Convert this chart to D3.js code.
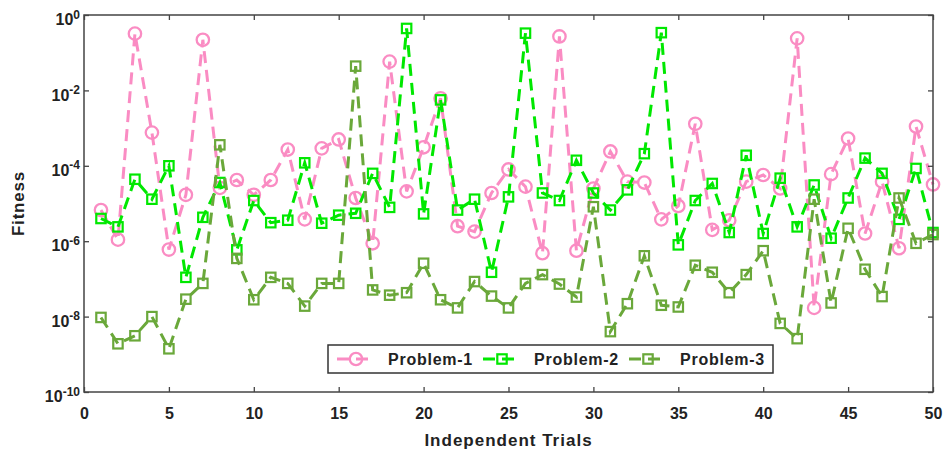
<!DOCTYPE html>
<html>
<head>
<meta charset="utf-8">
<script src="https://cdn.jsdelivr.net/npm/d3@7"></script>
<style>
  body { margin: 0; background: #fff; }
  svg { display: block; font-family: Arial, "Liberation Sans", sans-serif; }
</style>
</head>
<body>
<svg id="chart" width="943" height="453"></svg>
<script>
// Data
const trials = [1,2,3,4,5,6,7,8,9,10,11,12,13,14,15,16,17,18,19,20,21,22,23,24,25,
  26,27,28,29,30,31,32,33,34,35,36,37,38,39,40,41,42,43,44,45,46,47,48,49,50];

const problem1 = [6.7e-6, 1.1e-6, 0.32, 7.6e-4, 6e-7, 1.7e-5, 0.22, 2.6e-5, 4.2e-5, 1.7e-5,
  4.2e-5, 2.7e-4, 3.8e-6, 2.9e-4, 5e-4, 1.4e-5, 8.8e-7, 0.058, 2.1e-5, 3.1e-4,
  6.2e-3, 2.5e-6, 1.8e-6, 1.9e-5, 8e-5, 2.8e-5, 4.8e-7, 0.27, 5.6e-7, 2.5e-5,
  2.4e-4, 3.8e-5, 3.6e-5, 3.8e-6, 8.6e-6, 1.3e-3, 2e-6, 3.6e-6, 3.8e-5, 5.7e-5,
  2.5e-5, 0.24, 1.7e-8, 6e-5, 5.3e-4, 1.6e-6, 3.8e-5, 6.5e-7, 1.1e-3, 3.2e-5];

const problem2 = [4e-6, 2.4e-6, 4.4e-5, 1.3e-5, 1e-4, 1.1e-7, 4.3e-6, 3.6e-5, 5.9e-7, 1.2e-5,
  3.1e-6, 3.6e-6, 1.2e-4, 3e-6, 4.9e-6, 5.5e-6, 6.3e-5, 7.9e-6, 0.44, 5.3e-6,
  5.6e-3, 6.7e-6, 1.3e-5, 1.5e-7, 1.5e-5, 0.33, 1.9e-5, 1.2e-5, 1.4e-4, 1.9e-5,
  6.7e-6, 2.3e-5, 2.1e-4, 0.34, 8e-7, 1.2e-5, 3.4e-5, 1.7e-6, 1.9e-4, 1.6e-6,
  4.7e-5, 2.4e-6, 3.1e-5, 1.2e-6, 1.4e-5, 1.6e-4, 6.3e-5, 3.8e-6, 8.5e-5, 1.7e-6];

const problem3 = [9.5e-9, 1.9e-9, 3.1e-9, 1e-8, 1.4e-9, 2.9e-8, 7.6e-8, 3.6e-4, 3.5e-7, 2.8e-8,
  1.1e-7, 7.6e-8, 1.9e-8, 7.6e-8, 7.6e-8, 0.044, 5.1e-8, 3.7e-8, 4.3e-8, 2.6e-7,
  2.8e-8, 1.7e-8, 8.5e-8, 3.5e-8, 1.7e-8, 7.6e-8, 1.3e-7, 7.3e-8, 3.3e-8, 8.2e-6,
  4e-9, 2.2e-8, 4.1e-7, 2e-8, 1.8e-8, 2.3e-7, 1.5e-7, 4.3e-8, 1.3e-7, 5.6e-7,
  6.6e-9, 2.6e-9, 1.3e-5, 2.3e-8, 2.2e-6, 1.8e-7, 3.4e-8, 1.4e-5, 8.8e-7, 1.5e-6];

const seriesNames = ["Problem-1", "Problem-2", "Problem-3"];
const xTicks = [0, 5, 10, 15, 20, 25, 30, 35, 40, 45, 50];
const yExponents = [0, -2, -4, -6, -8, -10];

// styling
const COLORS = ["#fa8cc3", "#00e800", "#6aa83a"];
const MARKERS = ["circle", "square", "square"];

const svg = d3.select("#chart");
const plotLeft = 84, plotRight = 933, plotTop = 15, plotBottom = 392;

const x = d3.scaleLinear().domain([0, 50]).range([plotLeft, plotRight]);
const y = d3.scaleLog().domain([1e-10, 1]).range([plotBottom, plotTop]);

const series = [problem1, problem2, problem3].map(function (vals, k) {
  return {
    name: seriesNames[k],
    color: COLORS[k],
    marker: MARKERS[k],
    points: trials.map(function (t, i) { return { t: t, v: vals[i] }; })
  };
});

// lines + markers
const line = d3.line().x(d => x(d.t)).y(d => y(d.v));

function drawMarker(g, type, color, cx, cy) {
  if (type === "circle") {
    g.append("circle")
      .attr("cx", cx).attr("cy", cy).attr("r", 6.2)
      .attr("fill", "none").attr("stroke", color).attr("stroke-width", 2.3);
  } else {
    g.append("rect")
      .attr("x", cx - 4.7).attr("y", cy - 4.7)
      .attr("width", 9.4).attr("height", 9.4)
      .attr("fill", "none").attr("stroke", color).attr("stroke-width", 2.2);
  }
}

series.forEach(function (s) {
  const g = svg.append("g");
  g.append("path")
    .datum(s.points)
    .attr("d", line)
    .attr("fill", "none")
    .attr("stroke", s.color)
    .attr("stroke-width", 3)
    .attr("stroke-dasharray", "12,7");
  s.points.forEach(function (p) {
    drawMarker(g, s.marker, s.color, x(p.t), y(p.v));
  });
});

// axes (MATLAB style, ticks inside, box on)
const axisColor = "#444";
const yTickVals = yExponents.map(e => Math.pow(10, e));

const xAxis = svg.append("g")
  .attr("transform", "translate(0," + plotBottom + ")")
  .call(d3.axisBottom(x).tickValues(xTicks).tickSizeInner(-5).tickSizeOuter(0).tickPadding(16).tickFormat(d3.format("d")));

svg.append("g")
  .attr("transform", "translate(0," + plotTop + ")")
  .call(d3.axisTop(x).tickValues(xTicks).tickSizeInner(-5).tickSizeOuter(0).tickFormat(""));

const yAxis = svg.append("g")
  .attr("transform", "translate(" + plotLeft + ",0)")
  .call(d3.axisLeft(y).tickValues(yTickVals).tickSizeInner(-5).tickSizeOuter(0).tickPadding(4).tickFormat(""));

svg.append("g")
  .attr("transform", "translate(" + plotRight + ",0)")
  .call(d3.axisRight(y).tickValues(yTickVals).tickSizeInner(-5).tickSizeOuter(0).tickFormat(""));

svg.selectAll(".domain").remove();
svg.selectAll(".tick line").attr("stroke", axisColor).attr("stroke-width", 1.3);

xAxis.selectAll("text")
  .attr("fill", "#222")
  .style("font-size", "16px")
  .style("font-weight", "bold");

// y tick labels: 10 with superscript exponent
yAxis.selectAll(".tick").each(function (d) {
  const t = d3.select(this).select("text");
  const ex = Math.round(Math.log10(d));
  t.attr("x", -4).attr("dy", "0.6em")
    .attr("fill", "#222")
    .style("font-size", "16px")
    .style("font-weight", "bold")
    .attr("text-anchor", "end");
  t.append("tspan").text("10");
  t.append("tspan")
    .attr("dy", "-0.55em")
    .style("font-size", "12px")
    .text(String(ex === 0 ? 0 : ex));
});

// frame
svg.append("rect")
  .attr("x", plotLeft).attr("y", plotTop)
  .attr("width", plotRight - plotLeft).attr("height", plotBottom - plotTop)
  .attr("fill", "none")
  .attr("stroke", axisColor)
  .attr("stroke-width", 1.5);

// axis labels
svg.append("text")
  .attr("x", (plotLeft + plotRight) / 2)
  .attr("y", 446)
  .attr("text-anchor", "middle")
  .attr("fill", "#222")
  .style("font-size", "17px")
  .style("font-weight", "bold")
  .style("letter-spacing", "1px")
  .text("Independent Trials");

svg.append("text")
  .attr("transform", "translate(24," + ((plotTop + plotBottom) / 2) + ") rotate(-90)")
  .attr("text-anchor", "middle")
  .attr("fill", "#222")
  .style("font-size", "17px")
  .style("font-weight", "bold")
  .style("letter-spacing", "0.8px")
  .text("Fitness");

// legend
const legend = svg.append("g");
legend.append("rect")
  .attr("x", 328).attr("y", 345)
  .attr("width", 445).attr("height", 28)
  .attr("fill", "#fff")
  .attr("stroke", "#333")
  .attr("stroke-width", 1.5);

const legendX = [337, 483, 629];
series.forEach(function (s, k) {
  const lx = legendX[k], ly = 359;
  legend.append("line")
    .attr("x1", lx).attr("x2", lx + 36)
    .attr("y1", ly).attr("y2", ly)
    .attr("stroke", s.color)
    .attr("stroke-width", 3)
    .attr("stroke-dasharray", "12,7");
  drawMarker(legend, s.marker, s.color, lx + 19, ly);
  legend.append("text")
    .attr("x", lx + 51)
    .attr("y", ly + 6)
    .attr("fill", "#222")
    .style("font-size", "16px")
    .style("font-weight", "bold")
    .style("letter-spacing", "0.75px")
    .text(s.name);
});
</script>
</body>
</html>
